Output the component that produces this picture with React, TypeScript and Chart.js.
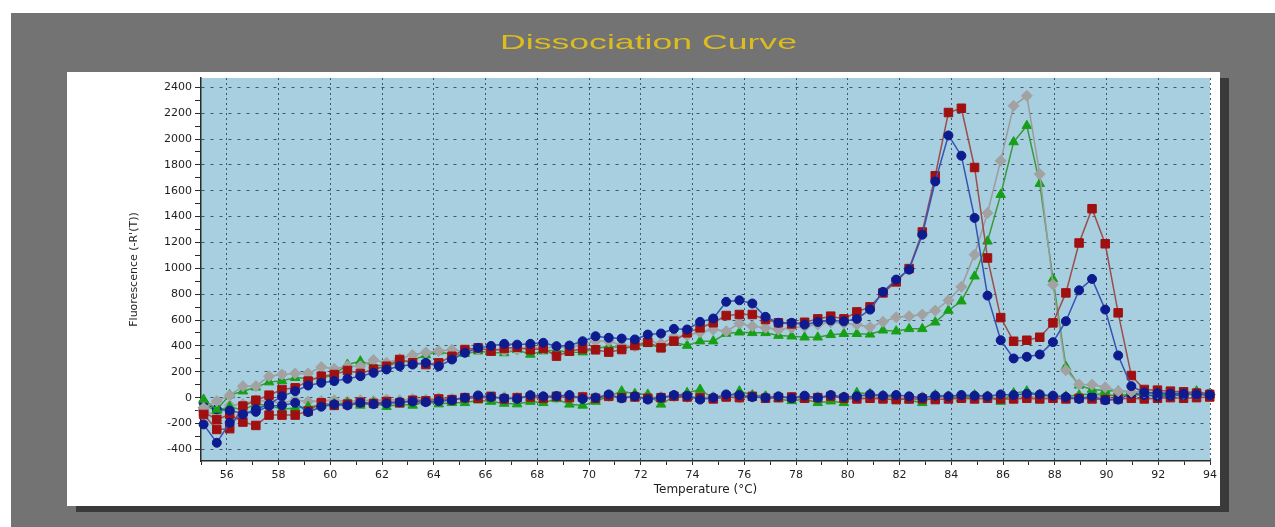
import { useEffect, useRef } from "react";
import { Chart, registerables } from "chart.js";

Chart.register(...registerables);

const TITLE = "Dissociation Curve";
const X_TITLE = "Temperature (°C)";
const Y_TITLE = "Fluorescence (-R'(T))";

const TEMPS = [
  55.10, 55.61, 56.11, 56.62, 57.12, 57.63, 58.13, 58.64, 59.14, 59.65,
  60.15, 60.66, 61.16, 61.67, 62.17, 62.68, 63.18, 63.69, 64.19, 64.70,
  65.20, 65.71, 66.21, 66.72, 67.22, 67.73, 68.23, 68.74, 69.24, 69.75,
  70.25, 70.76, 71.26, 71.77, 72.27, 72.78, 73.28, 73.79, 74.29, 74.80,
  75.30, 75.81, 76.31, 76.82, 77.32, 77.83, 78.33, 78.84, 79.34, 79.85,
  80.35, 80.86, 81.36, 81.87, 82.37, 82.88, 83.38, 83.89, 84.39, 84.90,
  85.40, 85.91, 86.41, 86.92, 87.42, 87.93, 88.43, 88.94, 89.44, 89.95,
  90.45, 90.96, 91.46, 91.97, 92.47, 92.98, 93.48, 93.99,
];

const BLUE_SAMPLE = [
  -207, -349, -194, -130, -90, -50, 10, 50, 94, 115,
  128, 146, 166, 192, 218, 243, 256, 269, 243, 295,
  347, 385, 400, 416, 410, 416, 424, 398, 403, 436,
  475, 463, 457, 450, 488, 496, 532, 527, 586, 612,
  741, 753, 728, 625, 579, 579, 565, 585, 597, 590,
  609, 681, 818, 913, 990, 1260, 1672, 2028, 1871, 1390,
  789, 444, 303, 316, 334, 429, 591, 830, 918, 681,
  326, 89, 40, 35, 30, 30, 25, 20,
];

const RED_SAMPLE = [
  -130, -246, -240, -65, -20, 19, 63, 76, 128, 166,
  179, 210, 187, 220, 243, 295, 270, 256, 269, 320,
  372, 385, 360, 380, 390, 370, 380, 321, 359, 378,
  370, 352, 372, 403, 429, 385, 437, 501, 540, 579,
  635, 643, 643, 604, 579, 570, 583, 609, 630, 609,
  663, 702, 810, 895, 998, 1281, 1716, 2205, 2238, 1780,
  1080, 619, 436, 444, 467, 578, 810, 1196, 1461, 1190,
  656, 171, 63, 58, 50, 45, 35, 25,
];

const GREEN_SAMPLE = [
  -14, -91, 20, 50, 80, 120, 130, 154, 150, 146,
  180, 256, 282, 249, 249, 269, 290, 330, 359, 330,
  340, 359, 350, 345, 370, 334, 360, 367, 350, 352,
  380, 398, 385, 398, 416, 385, 429, 403, 437, 437,
  496, 506, 501, 501, 480, 475, 467, 467, 486, 494,
  494, 490, 521, 514, 532, 532, 583, 674, 746, 939,
  1209, 1570, 1977, 2103, 1655, 918, 240, 95, 63, 55,
  50, 45, 40, 40, 35, 35, 30, 30,
];

const GRAY_SAMPLE = [
  -78, -27, 17, 89, 89, 166, 179, 187, 187, 236,
  223, 243, 243, 291, 270, 300, 330, 350, 360, 370,
  355, 375, 380, 360, 370, 390, 380, 395, 385, 411,
  437, 437, 405, 398, 444, 416, 470, 480, 506, 527,
  514, 573, 552, 540, 525, 540, 550, 565, 583, 575,
  565, 545, 586, 622, 630, 643, 674, 753, 857, 1106,
  1428, 1832, 2257, 2334, 1729, 874, 212, 102, 100, 80,
  50, 45, 40, 35, 35, 30, 30, 25,
];

const BLUE_NTC = [
  -40, -90, -100, -122, -110, -65, -60, -40, -112, -70,
  -52, -60, -40, -50, -45, -35, -30, -35, -27, -20,
  -1, 17, 5, -5, -9, 19, 10, 12, 20, -10,
  0, 25, -5, 10, -15, 0, 20, 15, -15, 0,
  25, 20, 5, 0, 10, -5, 15, 0, 20, 5,
  10, 25, 15, 20, 10, 0, 15, 10, 20, 15,
  10, 25, 20, 30, 25, 15, 5, -10, 10, -20,
  -15, 30, 20, 10, 15, 20, 35, 30,
];

const RED_NTC = [
  -110, -170, -130, -189, -215, -135, -135, -135, -104, -40,
  -60, -50, -35, -45, -30, -40, -20, -25, -10, -15,
  0, -5, 10, -10, 0, 5, -5, 10, 0, 5,
  -5, 10, 0, 5, -5, 0, 10, 5, 0, -10,
  5, 0, 10, -5, 0, 5, -5, 0, 10, -5,
  -10, -5, -10, -15, -10, -10, -15, -10, -5, -10,
  -5, -10, -10, -5, -10, -5, -10, -5, -10, -15,
  -10, -5, -10, -5, 0, -5, 0, 5,
];

const GREEN_NTC = [
  -60, -100, -70, -95, -50, -60, -90, -80, -70, -60,
  -50, -40, -60, -40, -70, -50, -60, -30, -50, -40,
  -40, -20, -30, -45, -50, -30, -40, -10, -52, -60,
  -30, 10, 50, 30, 25, -52, 10, 38, 63, -5,
  5, 50, 20, 10, -10, -25, -10, -40, -27, -40,
  38, 30, 15, 0, -20, -40, 20, 10, -5, 20,
  10, -30, 35, 50, 20, 10, 10, 20, 30, 25,
  10, 30, 40, 25, 20, 30, 50, 25,
];

const GRAY_NTC = [
  -100, -140, -60, -50, -20, -30, -40, -20, -30, -25,
  -20, -30, -20, -25, -15, -20, -10, -15, -5, -10,
  -5, 0, -5, 5, 0, 10, 5, 0, 10, 5,
  0, 10, 5, 10, 0, 5, 10, 5, 0, 5,
  10, 0, 5, 10, 5, 0, 10, 5, 10, 5,
  0, 5, 10, 5, 0, 5, 10, 0, 5, 10,
  5, 0, 5, 10, 5, 10, 5, 0, 10, 15,
  20, 15, 20, 25, 20, 25, 20, 25,
];

const X_TICKS = [
  55, 56, 57, 58, 59, 60, 61, 62, 63, 64, 65, 66, 67, 68, 69, 70, 71, 72, 73, 74,
  75, 76, 77, 78, 79, 80, 81, 82, 83, 84, 85, 86, 87, 88, 89, 90, 91, 92, 93, 94,
];
const X_LABELS = [56, 58, 60, 62, 64, 66, 68, 70, 72, 74, 76, 78, 80, 82, 84, 86, 88, 90, 92, 94];

const Y_TICKS = [
  -400, -300, -200, -100, 0, 100, 200, 300, 400, 500, 600, 700, 800, 900, 1000,
  1100, 1200, 1300, 1400, 1500, 1600, 1700, 1800, 1900, 2000, 2100, 2200, 2300, 2400,
];
const Y_LABELS = [-400, -200, 0, 200, 400, 600, 800, 1000, 1200, 1400, 1600, 1800, 2000, 2200, 2400];

const W = 1275;
const H = 527;
const FONT = "'DejaVu Sans', 'Liberation Sans', Arial, sans-serif";

function toPoints(vals: number[]) {
  return vals.map((v, i) => ({ x: TEMPS[i], y: v }));
}

function series(vals: number[], marker: string, line: string, style: string, radius: number) {
  return {
    data: toPoints(vals),
    borderColor: line,
    borderWidth: 1.5,
    backgroundColor: marker,
    pointBackgroundColor: marker,
    pointBorderColor: marker,
    pointBorderWidth: 1,
    pointStyle: style,
    pointRadius: radius,
    tension: 0,
    clip: 10,
  };
}

const framePlugin = {
  id: "frame",
  beforeDraw(chart: any) {
    const ctx = chart.ctx;
    const a = chart.chartArea;
    ctx.save();
    ctx.fillStyle = "#ffffff";
    ctx.fillRect(0, 0, W, H);
    ctx.fillStyle = "#737373";
    ctx.fillRect(11, 13, W - 11, H - 13);
    ctx.fillStyle = "#3a3a3a";
    ctx.fillRect(76, 78, 1153, 434);
    ctx.fillStyle = "#ffffff";
    ctx.fillRect(67, 72, 1153, 434);
    ctx.fillStyle = "#a8cfdf";
    ctx.fillRect(a.left, a.top, a.right - a.left, a.bottom - a.top);
    // title
    ctx.font = "21px 'Liberation Sans', Arial, sans-serif";
    const tw = ctx.measureText(TITLE).width;
    ctx.translate(648.5, 43);
    ctx.scale(297 / tw, 1);
    ctx.textAlign = "center";
    ctx.textBaseline = "middle";
    ctx.fillStyle = "#dcbc1e";
    ctx.fillText(TITLE, 0, 0);
    ctx.restore();
  },
};

export default function App() {
  const ref = useRef<HTMLCanvasElement>(null);

  useEffect(() => {
    const canvas = ref.current;
    if (!canvas) return;
    const gridColor = "rgba(35,55,75,0.8)";
    const chart = new Chart(canvas, {
      type: "line",
      data: {
        datasets: [
          series(BLUE_SAMPLE, "#0d1b8f", "#3552b5", "circle", 4.5),
          series(RED_SAMPLE, "#a01010", "#9a4e4e", "rect", 6),
          series(GRAY_SAMPLE, "#a2a2a2", "#9c9c9c", "rectRot", 5.5),
          series(GREEN_SAMPLE, "#17a017", "#3a9a3a", "triangle", 5.5),
          series(BLUE_NTC, "#0d1b8f", "#3552b5", "circle", 4.5),
          series(RED_NTC, "#a01010", "#9a4e4e", "rect", 6),
          series(GREEN_NTC, "#17a017", "#3a9a3a", "triangle", 5.5),
          series(GRAY_NTC, "#a2a2a2", "#9c9c9c", "rectRot", 5.5),
        ] as any,
      },
      options: {
        responsive: false,
        animation: false,
        devicePixelRatio: 1,
        layout: { padding: { left: 0, top: 78, right: 65, bottom: 26 } },
        plugins: {
          legend: { display: false },
          tooltip: { enabled: false },
          title: { display: false },
        },
        scales: {
          x: {
            type: "linear",
            min: 55,
            max: 94,
            afterFit: (s: any) => {
              s.height = 40;
            },
            afterBuildTicks: (s: any) => {
              s.ticks = X_TICKS.map((v) => ({ value: v }));
            },
            ticks: {
              autoSkip: false,
              maxRotation: 0,
              padding: 4,
              color: "#1e1e1e",
              font: { family: FONT, size: 11 },
              callback: (v: any) => (X_LABELS.includes(Number(v)) ? String(v) : ""),
            },
            grid: {
              color: (c: any) =>
                c.tick && X_LABELS.includes(c.tick.value) ? gridColor : "rgba(0,0,0,0)",
              tickColor: "#2a2a2a",
              tickLength: 4,
              lineWidth: 1,
            },
            border: { display: true, color: "#2a2a2a", width: 1.5, dash: [2, 3] },
            title: {
              display: true,
              text: X_TITLE,
              color: "#1e1e1e",
              font: { family: FONT, size: 12 },
              padding: { top: 0, bottom: 4 },
            },
          },
          y: {
            type: "linear",
            min: -490,
            max: 2472,
            afterFit: (s: any) => {
              s.width = 201;
            },
            afterBuildTicks: (s: any) => {
              s.ticks = Y_TICKS.map((v) => ({ value: v }));
            },
            ticks: {
              autoSkip: false,
              padding: 3,
              color: "#1e1e1e",
              font: { family: FONT, size: 11 },
              callback: (v: any) => (Y_LABELS.includes(Number(v)) ? String(v) : ""),
            },
            grid: {
              color: (c: any) =>
                c.tick && Y_LABELS.includes(c.tick.value) ? gridColor : "rgba(0,0,0,0)",
              tickColor: "#2a2a2a",
              tickLength: 6,
              lineWidth: 1,
            },
            border: { display: true, color: "#2a2a2a", width: 1.5, dash: [3, 6] },
            title: {
              display: true,
              text: Y_TITLE,
              color: "#1e1e1e",
              font: { family: FONT, size: 11 },
              padding: { top: 128, bottom: 0 },
            },
          },
        },
      },
      plugins: [framePlugin],
    } as any);
    return () => chart.destroy();
  }, []);

  return (
    <div style={{ position: "absolute", left: 0, top: 0, width: W, height: H, overflow: "hidden" }}>
      <canvas ref={ref} width={W} height={H} style={{ display: "block" }} />
    </div>
  );
}
